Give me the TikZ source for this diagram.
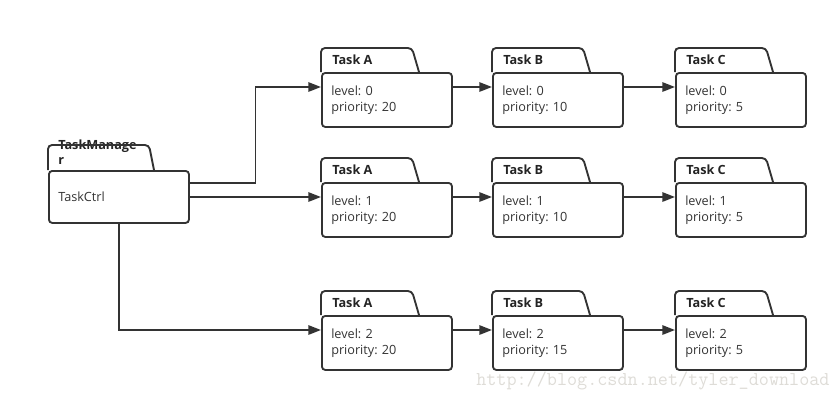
\documentclass[tikz,border=0pt]{standalone}
\usepackage{fontspec}
\setmainfont{Open Sans}
\definecolor{inkgray}{RGB}{51,51,51}
\definecolor{markgray}{RGB}{222,220,215}
\usetikzlibrary{arrows.meta, positioning, calc}
\frenchspacing

\begin{document}
\begin{tikzpicture}[
        x=0.75pt, y=-0.75pt,
        card/.style={draw=inkgray, line width=1.4pt, rounded corners=2.5pt, anchor=north west,
                     minimum width=97.5pt, minimum height=40.5pt, inner xsep=7pt,
                     text width=83.5pt, align=left, text=inkgray,
                     font=\fontsize{9.5}{12}\selectfont},
        tabline/.style={draw=inkgray, line width=1.4pt},
        cardtitle/.style={anchor=west, inner sep=0pt, text=inkgray!70!black,
                          font=\fontsize{9.5}{12}\selectfont\bfseries},
        link/.style={draw=inkgray, line width=1.4pt, -{Triangle[length=9.5pt,width=7pt]}}
      ]
        \useasboundingbox (0,0) rectangle (837,401);

        % manager
        \node[card, minimum width=105pt, minimum height=39pt, text width=91pt] (tm) at (48,170) {TaskCtrl};
        \node[cardtitle, anchor=north west, align=left,
              font=\fontsize{9.5}{11}\selectfont\bfseries] (tmt) at (58,140) {TaskManage\\r};
        \draw[tabline] (tm.north west) [rounded corners=3pt] -- ++(0,-25) -- ++(101,0)
            [sharp corners] -- ($(tm.north west)+(106,0)$);

        % task rows
        \node[card] (a1) at (321,72)  {level: 0\\priority: 20};
        \node[card] (b1) at (492,72)  {level: 0\\priority: 10};
        \node[card] (c1) at (675,72)  {level: 0\\priority: 5};
        \node[card] (a2) at (321,182) {level: 1\\priority: 20};
        \node[card] (b2) at (492,182) {level: 1\\priority: 10};
        \node[card] (c2) at (675,182) {level: 1\\priority: 5};
        \node[card] (a3) at (321,315) {level: 2\\priority: 20};
        \node[card] (b3) at (492,315) {level: 2\\priority: 15};
        \node[card] (c3) at (675,315) {level: 2\\priority: 5};

        \foreach \n/\t in {a1/Task A, b1/Task B, c1/Task C,
                           a2/Task A, b2/Task B, c2/Task C,
                           a3/Task A, b3/Task B, c3/Task C} {
          \draw[tabline] (\n.north west) [rounded corners=3pt] -- ++(0,-24) -- ++(91,0)
              [sharp corners] -- ($(\n.north west)+(98,0)$);
          \node[cardtitle] (\n t) at ($(\n.north west)+(11,-12)$) {\t};
        }

        % links
        \coordinate (tmo) at ($(tm.north east)+(0,13)$);
        \draw[link] (tmo) -| ($(tmo)!0.5!($(a1.north west)+(0,15)$)$) |- ($(a1.north west)+(0,15)$);
        \draw[link] (tm.east |- {$(a2.north west)+(0,15)$}) -- ($(a2.north west)+(0,15)$);
        \draw[link] (tm.south) |- ($(a3.north west)+(0,15)$);
        \foreach \r in {1,2,3} {
          \draw[link] ($(a\r.north east)+(0,15)$) -- ($(b\r.north west)+(0,15)$);
          \draw[link] ($(b\r.north east)+(0,15)$) -- ($(c\r.north west)+(0,15)$);
        }

        \node[anchor=west, inner sep=0pt, text=markgray, font=\ttfamily\fontsize{14.7}{16}\selectfont]
            (mark) at (476,381) {http://blog.csdn.net/tyler\_download};
      \end{tikzpicture}
\end{document}
